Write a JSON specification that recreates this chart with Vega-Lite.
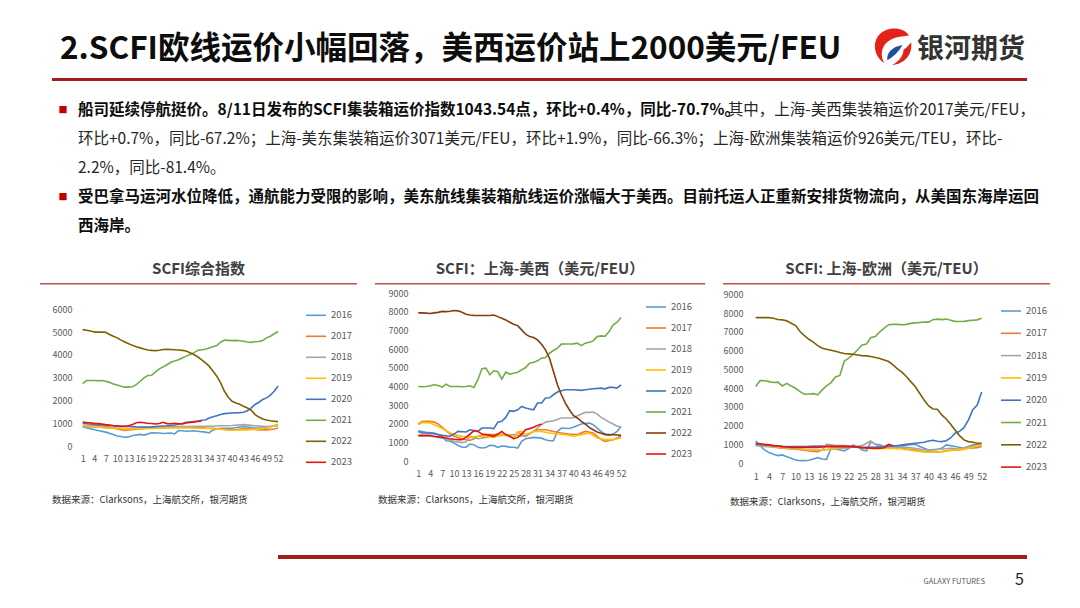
{
"$schema": "https://vega.github.io/schema/vega-lite/v6.json",
"background": "white",
"padding": {"left": 40, "top": 28, "right": 10, "bottom": 16},
"config": {
  "font": "Noto Sans CJK SC",
  "view": {"stroke": null},
  "axis": {"grid": false, "domain": false, "ticks": false, "labelColor": "#595959", "labelFontSize": 9, "labelFont": "Noto Sans CJK SC", "labelOverlap": false, "labelFlush": false, "format": "d"},
  "legend": {"symbolType": "stroke", "symbolSize": 400, "labelFontSize": 9.5, "labelColor": "#595959", "labelOffset": 4, "padding": 0}
},
"resolve": {"scale": {"color": "independent", "strokeWidth": "independent"}, "legend": {"color": "independent", "strokeWidth": "independent"}},
"datasets": {
  "blank": [{"id": 1}],
  "brand": [{"heading": "2.SCFI欧线运价小幅回落，美西运价站上2000美元/FEU", "name": "银河期货"}],
  "footer": [{"brand": "GALAXY FUTURES", "page": "5"}],
  "para": [
    {"line": "1", "part": "lead", "text": "船司延续停航挺价。8/11日发布的SCFI集装箱运价指数1043.54点，环比+0.4%，同比-70.7%。"},
    {"line": "1", "part": "body", "text": "其中，上海-美西集装箱运价2017美元/FEU，"},
    {"line": "2", "part": "body", "text": "环比+0.7%，同比-67.2%；上海-美东集装箱运价3071美元/FEU，环比+1.9%，同比-66.3%；上海-欧洲集装箱运价926美元/TEU，环比-"},
    {"line": "3", "part": "body", "text": "2.2%，同比-81.4%。"},
    {"line": "4", "part": "lead", "text": "受巴拿马运河水位降低，通航能力受限的影响，美东航线集装箱航线运价涨幅大于美西。目前托运人正重新安排货物流向，从美国东海岸运回"},
    {"line": "5", "part": "lead", "text": "西海岸。"}
  ],
  "comp": [
    {"year":"2016","week":1,"value":850},{"year":"2016","week":3,"value":770},{"year":"2016","week":5,"value":690},{"year":"2016","week":7,"value":620},{"year":"2016","week":9,"value":520},{"year":"2016","week":10,"value":450},{"year":"2016","week":12,"value":400},{"year":"2016","week":13,"value":410},{"year":"2016","week":14,"value":470},{"year":"2016","week":16,"value":520},{"year":"2016","week":17,"value":490},{"year":"2016","week":19,"value":590},{"year":"2016","week":21,"value":580},{"year":"2016","week":22,"value":560},{"year":"2016","week":24,"value":580},{"year":"2016","week":25,"value":540},{"year":"2016","week":26,"value":690},{"year":"2016","week":28,"value":660},{"year":"2016","week":30,"value":680},{"year":"2016","week":31,"value":660},{"year":"2016","week":33,"value":620},{"year":"2016","week":34,"value":590},{"year":"2016","week":35,"value":720},{"year":"2016","week":37,"value":790},{"year":"2016","week":40,"value":790},{"year":"2016","week":43,"value":870},{"year":"2016","week":46,"value":800},{"year":"2016","week":49,"value":800},{"year":"2016","week":52,"value":950},
    {"year":"2017","week":1,"value":900},{"year":"2017","week":4,"value":930},{"year":"2017","week":6,"value":900},{"year":"2017","week":8,"value":840},{"year":"2017","week":10,"value":760},{"year":"2017","week":12,"value":700},{"year":"2017","week":13,"value":720},{"year":"2017","week":15,"value":750},{"year":"2017","week":17,"value":780},{"year":"2017","week":19,"value":800},{"year":"2017","week":21,"value":790},{"year":"2017","week":23,"value":820},{"year":"2017","week":25,"value":850},{"year":"2017","week":27,"value":860},{"year":"2017","week":29,"value":840},{"year":"2017","week":31,"value":820},{"year":"2017","week":33,"value":800},{"year":"2017","week":35,"value":790},{"year":"2017","week":37,"value":760},{"year":"2017","week":39,"value":720},{"year":"2017","week":41,"value":720},{"year":"2017","week":43,"value":780},{"year":"2017","week":45,"value":760},{"year":"2017","week":47,"value":720},{"year":"2017","week":49,"value":720},{"year":"2017","week":51,"value":760},{"year":"2017","week":52,"value":800},
    {"year":"2018","week":1,"value":850},{"year":"2018","week":4,"value":860},{"year":"2018","week":7,"value":820},{"year":"2018","week":10,"value":800},{"year":"2018","week":13,"value":780},{"year":"2018","week":16,"value":790},{"year":"2018","week":19,"value":820},{"year":"2018","week":22,"value":840},{"year":"2018","week":25,"value":850},{"year":"2018","week":28,"value":860},{"year":"2018","week":31,"value":880},{"year":"2018","week":34,"value":880},{"year":"2018","week":37,"value":900},{"year":"2018","week":40,"value":910},{"year":"2018","week":43,"value":950},{"year":"2018","week":46,"value":900},{"year":"2018","week":49,"value":860},{"year":"2018","week":52,"value":900},
    {"year":"2019","week":1,"value":900},{"year":"2019","week":4,"value":870},{"year":"2019","week":7,"value":800},{"year":"2019","week":10,"value":780},{"year":"2019","week":13,"value":770},{"year":"2019","week":16,"value":770},{"year":"2019","week":19,"value":780},{"year":"2019","week":22,"value":800},{"year":"2019","week":25,"value":800},{"year":"2019","week":28,"value":810},{"year":"2019","week":31,"value":790},{"year":"2019","week":34,"value":780},{"year":"2019","week":37,"value":750},{"year":"2019","week":40,"value":700},{"year":"2019","week":43,"value":720},{"year":"2019","week":46,"value":740},{"year":"2019","week":49,"value":790},{"year":"2019","week":52,"value":950},
    {"year":"2020","week":1,"value":1000},{"year":"2020","week":3,"value":980},{"year":"2020","week":5,"value":950},{"year":"2020","week":7,"value":930},{"year":"2020","week":9,"value":890},{"year":"2020","week":11,"value":880},{"year":"2020","week":13,"value":870},{"year":"2020","week":15,"value":850},{"year":"2020","week":17,"value":840},{"year":"2020","week":19,"value":850},{"year":"2020","week":21,"value":880},{"year":"2020","week":23,"value":900},{"year":"2020","week":25,"value":930},{"year":"2020","week":27,"value":1000},{"year":"2020","week":28,"value":1050},{"year":"2020","week":30,"value":1080},{"year":"2020","week":31,"value":1100},{"year":"2020","week":32,"value":1140},{"year":"2020","week":33,"value":1150},{"year":"2020","week":34,"value":1240},{"year":"2020","week":35,"value":1290},{"year":"2020","week":36,"value":1340},{"year":"2020","week":37,"value":1390},{"year":"2020","week":38,"value":1430},{"year":"2020","week":40,"value":1460},{"year":"2020","week":42,"value":1475},{"year":"2020","week":43,"value":1490},{"year":"2020","week":44,"value":1560},{"year":"2020","week":45,"value":1680},{"year":"2020","week":46,"value":1830},{"year":"2020","week":47,"value":1930},{"year":"2020","week":48,"value":2050},{"year":"2020","week":49,"value":2120},{"year":"2020","week":50,"value":2240},{"year":"2020","week":51,"value":2410},{"year":"2020","week":52,"value":2640},
    {"year":"2021","week":1,"value":2750},{"year":"2021","week":2,"value":2880},{"year":"2021","week":3,"value":2880},{"year":"2021","week":4,"value":2880},{"year":"2021","week":5,"value":2870},{"year":"2021","week":6,"value":2880},{"year":"2021","week":7,"value":2850},{"year":"2021","week":8,"value":2800},{"year":"2021","week":9,"value":2730},{"year":"2021","week":10,"value":2680},{"year":"2021","week":11,"value":2630},{"year":"2021","week":12,"value":2590},{"year":"2021","week":13,"value":2590},{"year":"2021","week":14,"value":2610},{"year":"2021","week":15,"value":2700},{"year":"2021","week":16,"value":2850},{"year":"2021","week":17,"value":3000},{"year":"2021","week":18,"value":3100},{"year":"2021","week":19,"value":3110},{"year":"2021","week":20,"value":3260},{"year":"2021","week":21,"value":3390},{"year":"2021","week":22,"value":3480},{"year":"2021","week":23,"value":3570},{"year":"2021","week":24,"value":3680},{"year":"2021","week":25,"value":3740},{"year":"2021","week":26,"value":3790},{"year":"2021","week":27,"value":3870},{"year":"2021","week":28,"value":3950},{"year":"2021","week":29,"value":4020},{"year":"2021","week":30,"value":4090},{"year":"2021","week":31,"value":4200},{"year":"2021","week":32,"value":4230},{"year":"2021","week":33,"value":4250},{"year":"2021","week":34,"value":4310},{"year":"2021","week":35,"value":4360},{"year":"2021","week":36,"value":4410},{"year":"2021","week":37,"value":4560},{"year":"2021","week":38,"value":4650},{"year":"2021","week":39,"value":4640},{"year":"2021","week":40,"value":4630},{"year":"2021","week":41,"value":4640},{"year":"2021","week":42,"value":4620},{"year":"2021","week":43,"value":4600},{"year":"2021","week":44,"value":4570},{"year":"2021","week":45,"value":4550},{"year":"2021","week":46,"value":4580},{"year":"2021","week":47,"value":4590},{"year":"2021","week":48,"value":4630},{"year":"2021","week":49,"value":4750},{"year":"2021","week":50,"value":4820},{"year":"2021","week":51,"value":4930},{"year":"2021","week":52,"value":5030},
    {"year":"2022","week":1,"value":5110},{"year":"2022","week":2,"value":5080},{"year":"2022","week":3,"value":5050},{"year":"2022","week":4,"value":5010},{"year":"2022","week":5,"value":5000},{"year":"2022","week":6,"value":5000},{"year":"2022","week":7,"value":4990},{"year":"2022","week":8,"value":4900},{"year":"2022","week":9,"value":4820},{"year":"2022","week":10,"value":4750},{"year":"2022","week":11,"value":4650},{"year":"2022","week":12,"value":4570},{"year":"2022","week":13,"value":4490},{"year":"2022","week":14,"value":4420},{"year":"2022","week":15,"value":4360},{"year":"2022","week":16,"value":4310},{"year":"2022","week":17,"value":4260},{"year":"2022","week":18,"value":4220},{"year":"2022","week":19,"value":4200},{"year":"2022","week":20,"value":4190},{"year":"2022","week":21,"value":4210},{"year":"2022","week":22,"value":4240},{"year":"2022","week":23,"value":4250},{"year":"2022","week":24,"value":4240},{"year":"2022","week":25,"value":4230},{"year":"2022","week":26,"value":4220},{"year":"2022","week":27,"value":4200},{"year":"2022","week":28,"value":4170},{"year":"2022","week":29,"value":4100},{"year":"2022","week":30,"value":4020},{"year":"2022","week":31,"value":3920},{"year":"2022","week":32,"value":3800},{"year":"2022","week":33,"value":3660},{"year":"2022","week":34,"value":3510},{"year":"2022","week":35,"value":3300},{"year":"2022","week":36,"value":3070},{"year":"2022","week":37,"value":2780},{"year":"2022","week":38,"value":2410},{"year":"2022","week":39,"value":2150},{"year":"2022","week":40,"value":1970},{"year":"2022","week":41,"value":1900},{"year":"2022","week":42,"value":1840},{"year":"2022","week":43,"value":1750},{"year":"2022","week":44,"value":1680},{"year":"2022","week":45,"value":1580},{"year":"2022","week":46,"value":1390},{"year":"2022","week":47,"value":1280},{"year":"2022","week":48,"value":1200},{"year":"2022","week":49,"value":1155},{"year":"2022","week":50,"value":1120},{"year":"2022","week":51,"value":1100},{"year":"2022","week":52,"value":1080},
    {"year":"2023","week":1,"value":1060},{"year":"2023","week":2,"value":1040},{"year":"2023","week":3,"value":1030},{"year":"2023","week":4,"value":1010},{"year":"2023","week":5,"value":1000},{"year":"2023","week":6,"value":980},{"year":"2023","week":7,"value":950},{"year":"2023","week":8,"value":930},{"year":"2023","week":9,"value":910},{"year":"2023","week":10,"value":900},{"year":"2023","week":11,"value":880},{"year":"2023","week":12,"value":880},{"year":"2023","week":13,"value":900},{"year":"2023","week":14,"value":960},{"year":"2023","week":15,"value":1030},{"year":"2023","week":16,"value":1050},{"year":"2023","week":17,"value":1030},{"year":"2023","week":18,"value":1010},{"year":"2023","week":19,"value":1000},{"year":"2023","week":20,"value":980},{"year":"2023","week":21,"value":1000},{"year":"2023","week":22,"value":1050},{"year":"2023","week":23,"value":995},{"year":"2023","week":24,"value":990},{"year":"2023","week":25,"value":1010},{"year":"2023","week":26,"value":990},{"year":"2023","week":27,"value":980},{"year":"2023","week":28,"value":1020},{"year":"2023","week":29,"value":1040},{"year":"2023","week":30,"value":1070},{"year":"2023","week":31,"value":1090},{"year":"2023","week":32,"value":1100}
  ],
  "usw": [
    {"year":"2016","week":1,"value":1640},{"year":"2016","week":3,"value":1550},{"year":"2016","week":5,"value":1520},{"year":"2016","week":7,"value":1340},{"year":"2016","week":8,"value":1100},{"year":"2016","week":9,"value":1070},{"year":"2016","week":10,"value":980},{"year":"2016","week":11,"value":855},{"year":"2016","week":12,"value":750},{"year":"2016","week":13,"value":760},{"year":"2016","week":14,"value":925},{"year":"2016","week":15,"value":890},{"year":"2016","week":16,"value":750},{"year":"2016","week":17,"value":710},{"year":"2016","week":18,"value":740},{"year":"2016","week":19,"value":855},{"year":"2016","week":20,"value":840},{"year":"2016","week":21,"value":750},{"year":"2016","week":22,"value":820},{"year":"2016","week":23,"value":800},{"year":"2016","week":24,"value":760},{"year":"2016","week":25,"value":750},{"year":"2016","week":26,"value":710},{"year":"2016","week":27,"value":1070},{"year":"2016","week":28,"value":1210},{"year":"2016","week":30,"value":1280},{"year":"2016","week":32,"value":1240},{"year":"2016","week":33,"value":1160},{"year":"2016","week":34,"value":1100},{"year":"2016","week":35,"value":1100},{"year":"2016","week":36,"value":1600},{"year":"2016","week":37,"value":1780},{"year":"2016","week":39,"value":1760},{"year":"2016","week":40,"value":1820},{"year":"2016","week":42,"value":2000},{"year":"2016","week":44,"value":2050},{"year":"2016","week":45,"value":1960},{"year":"2016","week":46,"value":1780},{"year":"2016","week":47,"value":1600},{"year":"2016","week":48,"value":1460},{"year":"2016","week":49,"value":1390},{"year":"2016","week":50,"value":1460},{"year":"2016","week":51,"value":1600},{"year":"2016","week":52,"value":1870},
    {"year":"2017","week":1,"value":2000},{"year":"2017","week":2,"value":2140},{"year":"2017","week":4,"value":2140},{"year":"2017","week":5,"value":2100},{"year":"2017","week":6,"value":2000},{"year":"2017","week":7,"value":1820},{"year":"2017","week":8,"value":1640},{"year":"2017","week":9,"value":1460},{"year":"2017","week":10,"value":1340},{"year":"2017","week":11,"value":1280},{"year":"2017","week":12,"value":1210},{"year":"2017","week":13,"value":1160},{"year":"2017","week":14,"value":1120},{"year":"2017","week":15,"value":1210},{"year":"2017","week":16,"value":1340},{"year":"2017","week":18,"value":1430},{"year":"2017","week":20,"value":1430},{"year":"2017","week":22,"value":1460},{"year":"2017","week":24,"value":1340},{"year":"2017","week":25,"value":1250},{"year":"2017","week":26,"value":1570},{"year":"2017","week":27,"value":1430},{"year":"2017","week":28,"value":1340},{"year":"2017","week":30,"value":1600},{"year":"2017","week":31,"value":1690},{"year":"2017","week":33,"value":1690},{"year":"2017","week":35,"value":1600},{"year":"2017","week":37,"value":1515},{"year":"2017","week":39,"value":1460},{"year":"2017","week":41,"value":1430},{"year":"2017","week":43,"value":1600},{"year":"2017","week":45,"value":1515},{"year":"2017","week":46,"value":1340},{"year":"2017","week":47,"value":1160},{"year":"2017","week":48,"value":1070},{"year":"2017","week":50,"value":1160},{"year":"2017","week":52,"value":1340},
    {"year":"2018","week":1,"value":1340},{"year":"2018","week":4,"value":1340},{"year":"2018","week":7,"value":1250},{"year":"2018","week":9,"value":1150},{"year":"2018","week":10,"value":1070},{"year":"2018","week":12,"value":1000},{"year":"2018","week":13,"value":1040},{"year":"2018","week":14,"value":1340},{"year":"2018","week":16,"value":1210},{"year":"2018","week":18,"value":1280},{"year":"2018","week":20,"value":1340},{"year":"2018","week":22,"value":1390},{"year":"2018","week":25,"value":1430},{"year":"2018","week":27,"value":1340},{"year":"2018","week":28,"value":1390},{"year":"2018","week":30,"value":1600},{"year":"2018","week":32,"value":1960},{"year":"2018","week":33,"value":2100},{"year":"2018","week":35,"value":2175},{"year":"2018","week":37,"value":2320},{"year":"2018","week":39,"value":2320},{"year":"2018","week":40,"value":2330},{"year":"2018","week":42,"value":2530},{"year":"2018","week":43,"value":2620},{"year":"2018","week":44,"value":2620},{"year":"2018","week":45,"value":2640},{"year":"2018","week":46,"value":2530},{"year":"2018","week":47,"value":2350},{"year":"2018","week":48,"value":2230},{"year":"2018","week":49,"value":2100},{"year":"2018","week":50,"value":2000},{"year":"2018","week":51,"value":1880},{"year":"2018","week":52,"value":1850},
    {"year":"2019","week":1,"value":1960},{"year":"2019","week":2,"value":2085},{"year":"2019","week":4,"value":2050},{"year":"2019","week":6,"value":1870},{"year":"2019","week":8,"value":1640},{"year":"2019","week":9,"value":1515},{"year":"2019","week":10,"value":1430},{"year":"2019","week":12,"value":1340},{"year":"2019","week":14,"value":1280},{"year":"2019","week":16,"value":1340},{"year":"2019","week":18,"value":1340},{"year":"2019","week":20,"value":1280},{"year":"2019","week":22,"value":1430},{"year":"2019","week":24,"value":1430},{"year":"2019","week":25,"value":1210},{"year":"2019","week":26,"value":1570},{"year":"2019","week":27,"value":1600},{"year":"2019","week":28,"value":1430},{"year":"2019","week":30,"value":1600},{"year":"2019","week":32,"value":1600},{"year":"2019","week":34,"value":1515},{"year":"2019","week":36,"value":1460},{"year":"2019","week":38,"value":1430},{"year":"2019","week":40,"value":1340},{"year":"2019","week":42,"value":1430},{"year":"2019","week":44,"value":1515},{"year":"2019","week":46,"value":1250},{"year":"2019","week":48,"value":1160},{"year":"2019","week":50,"value":1160},{"year":"2019","week":52,"value":1250},
    {"year":"2020","week":1,"value":1600},{"year":"2020","week":2,"value":1515},{"year":"2020","week":4,"value":1515},{"year":"2020","week":7,"value":1390},{"year":"2020","week":9,"value":1340},{"year":"2020","week":10,"value":1460},{"year":"2020","week":11,"value":1600},{"year":"2020","week":13,"value":1570},{"year":"2020","week":14,"value":1690},{"year":"2020","week":16,"value":1600},{"year":"2020","week":17,"value":1780},{"year":"2020","week":19,"value":1780},{"year":"2020","week":20,"value":1750},{"year":"2020","week":21,"value":2100},{"year":"2020","week":22,"value":2140},{"year":"2020","week":23,"value":2350},{"year":"2020","week":24,"value":2710},{"year":"2020","week":25,"value":2675},{"year":"2020","week":26,"value":2760},{"year":"2020","week":27,"value":2940},{"year":"2020","week":28,"value":2850},{"year":"2020","week":29,"value":2800},{"year":"2020","week":30,"value":2760},{"year":"2020","week":31,"value":3120},{"year":"2020","week":32,"value":3120},{"year":"2020","week":33,"value":3390},{"year":"2020","week":34,"value":3400},{"year":"2020","week":35,"value":3565},{"year":"2020","week":36,"value":3710},{"year":"2020","week":37,"value":3780},{"year":"2020","week":38,"value":3830},{"year":"2020","week":40,"value":3830},{"year":"2020","week":42,"value":3800},{"year":"2020","week":43,"value":3830},{"year":"2020","week":45,"value":3885},{"year":"2020","week":47,"value":3920},{"year":"2020","week":48,"value":3880},{"year":"2020","week":49,"value":3960},{"year":"2020","week":50,"value":3960},{"year":"2020","week":51,"value":3920},{"year":"2020","week":52,"value":4100},
    {"year":"2021","week":1,"value":4010},{"year":"2021","week":2,"value":3990},{"year":"2021","week":3,"value":4010},{"year":"2021","week":4,"value":4045},{"year":"2021","week":5,"value":4100},{"year":"2021","week":6,"value":4065},{"year":"2021","week":7,"value":3975},{"year":"2021","week":8,"value":4135},{"year":"2021","week":9,"value":4010},{"year":"2021","week":10,"value":4010},{"year":"2021","week":11,"value":4010},{"year":"2021","week":12,"value":3990},{"year":"2021","week":13,"value":4010},{"year":"2021","week":14,"value":4045},{"year":"2021","week":15,"value":3955},{"year":"2021","week":16,"value":4370},{"year":"2021","week":17,"value":4955},{"year":"2021","week":18,"value":4990},{"year":"2021","week":19,"value":4635},{"year":"2021","week":20,"value":4850},{"year":"2021","week":21,"value":4810},{"year":"2021","week":22,"value":4400},{"year":"2021","week":23,"value":4775},{"year":"2021","week":24,"value":4670},{"year":"2021","week":25,"value":4720},{"year":"2021","week":26,"value":4775},{"year":"2021","week":27,"value":4900},{"year":"2021","week":28,"value":5025},{"year":"2021","week":29,"value":5260},{"year":"2021","week":30,"value":5310},{"year":"2021","week":31,"value":5380},{"year":"2021","week":32,"value":5525},{"year":"2021","week":33,"value":5560},{"year":"2021","week":34,"value":5790},{"year":"2021","week":35,"value":5935},{"year":"2021","week":36,"value":6060},{"year":"2021","week":37,"value":6275},{"year":"2021","week":38,"value":6280},{"year":"2021","week":39,"value":6280},{"year":"2021","week":40,"value":6290},{"year":"2021","week":41,"value":6330},{"year":"2021","week":42,"value":6200},{"year":"2021","week":43,"value":6330},{"year":"2021","week":44,"value":6380},{"year":"2021","week":45,"value":6450},{"year":"2021","week":46,"value":6680},{"year":"2021","week":47,"value":6720},{"year":"2021","week":48,"value":6700},{"year":"2021","week":49,"value":6950},{"year":"2021","week":50,"value":7300},{"year":"2021","week":51,"value":7450},{"year":"2021","week":52,"value":7700},
    {"year":"2022","week":1,"value":7950},{"year":"2022","week":2,"value":7950},{"year":"2022","week":3,"value":7940},{"year":"2022","week":4,"value":7920},{"year":"2022","week":5,"value":7950},{"year":"2022","week":6,"value":7980},{"year":"2022","week":7,"value":8030},{"year":"2022","week":8,"value":8020},{"year":"2022","week":9,"value":8040},{"year":"2022","week":10,"value":8075},{"year":"2022","week":11,"value":8060},{"year":"2022","week":12,"value":7985},{"year":"2022","week":13,"value":7880},{"year":"2022","week":14,"value":7840},{"year":"2022","week":15,"value":7810},{"year":"2022","week":16,"value":7810},{"year":"2022","week":17,"value":7810},{"year":"2022","week":18,"value":7810},{"year":"2022","week":19,"value":7810},{"year":"2022","week":20,"value":7840},{"year":"2022","week":21,"value":7750},{"year":"2022","week":22,"value":7665},{"year":"2022","week":23,"value":7575},{"year":"2022","week":24,"value":7450},{"year":"2022","week":25,"value":7345},{"year":"2022","week":26,"value":7270},{"year":"2022","week":27,"value":7040},{"year":"2022","week":28,"value":6810},{"year":"2022","week":29,"value":6680},{"year":"2022","week":30,"value":6630},{"year":"2022","week":31,"value":6505},{"year":"2022","week":32,"value":6275},{"year":"2022","week":33,"value":5970},{"year":"2022","week":34,"value":5525},{"year":"2022","week":35,"value":4810},{"year":"2022","week":36,"value":4100},{"year":"2022","week":37,"value":3565},{"year":"2022","week":38,"value":3120},{"year":"2022","week":39,"value":2760},{"year":"2022","week":40,"value":2460},{"year":"2022","week":41,"value":2320},{"year":"2022","week":42,"value":2140},{"year":"2022","week":43,"value":2000},{"year":"2022","week":44,"value":1820},{"year":"2022","week":45,"value":1690},{"year":"2022","week":46,"value":1570},{"year":"2022","week":47,"value":1500},{"year":"2022","week":48,"value":1430},{"year":"2022","week":49,"value":1430},{"year":"2022","week":50,"value":1420},{"year":"2022","week":51,"value":1410},{"year":"2022","week":52,"value":1390},
    {"year":"2023","week":1,"value":1390},{"year":"2023","week":2,"value":1390},{"year":"2023","week":3,"value":1390},{"year":"2023","week":4,"value":1390},{"year":"2023","week":5,"value":1340},{"year":"2023","week":6,"value":1310},{"year":"2023","week":7,"value":1280},{"year":"2023","week":8,"value":1250},{"year":"2023","week":9,"value":1210},{"year":"2023","week":10,"value":1180},{"year":"2023","week":11,"value":1160},{"year":"2023","week":12,"value":1160},{"year":"2023","week":13,"value":1280},{"year":"2023","week":14,"value":1460},{"year":"2023","week":15,"value":1640},{"year":"2023","week":16,"value":1600},{"year":"2023","week":17,"value":1460},{"year":"2023","week":18,"value":1430},{"year":"2023","week":19,"value":1390},{"year":"2023","week":20,"value":1340},{"year":"2023","week":21,"value":1460},{"year":"2023","week":22,"value":1600},{"year":"2023","week":23,"value":1430},{"year":"2023","week":24,"value":1340},{"year":"2023","week":25,"value":1210},{"year":"2023","week":26,"value":1280},{"year":"2023","week":27,"value":1460},{"year":"2023","week":28,"value":1690},{"year":"2023","week":29,"value":1750},{"year":"2023","week":30,"value":1820},{"year":"2023","week":31,"value":1925},{"year":"2023","week":32,"value":2000}
  ],
  "eur": [
    {"year":"2016","week":1,"value":1190},{"year":"2016","week":2,"value":940},{"year":"2016","week":3,"value":710},{"year":"2016","week":4,"value":570},{"year":"2016","week":5,"value":480},{"year":"2016","week":6,"value":410},{"year":"2016","week":7,"value":445},{"year":"2016","week":8,"value":355},{"year":"2016","week":9,"value":265},{"year":"2016","week":10,"value":180},{"year":"2016","week":11,"value":140},{"year":"2016","week":12,"value":140},{"year":"2016","week":13,"value":160},{"year":"2016","week":14,"value":230},{"year":"2016","week":15,"value":300},{"year":"2016","week":16,"value":230},{"year":"2016","week":17,"value":210},{"year":"2016","week":18,"value":800},{"year":"2016","week":19,"value":765},{"year":"2016","week":20,"value":710},{"year":"2016","week":21,"value":660},{"year":"2016","week":22,"value":800},{"year":"2016","week":23,"value":980},{"year":"2016","week":24,"value":890},{"year":"2016","week":25,"value":710},{"year":"2016","week":26,"value":660},{"year":"2016","week":27,"value":1155},{"year":"2016","week":28,"value":1010},{"year":"2016","week":29,"value":980},{"year":"2016","week":30,"value":890},{"year":"2016","week":31,"value":1000},{"year":"2016","week":32,"value":890},{"year":"2016","week":33,"value":835},{"year":"2016","week":35,"value":980},{"year":"2016","week":37,"value":1010},{"year":"2016","week":38,"value":890},{"year":"2016","week":40,"value":710},{"year":"2016","week":42,"value":740},{"year":"2016","week":43,"value":800},{"year":"2016","week":44,"value":980},{"year":"2016","week":45,"value":940},{"year":"2016","week":46,"value":890},{"year":"2016","week":48,"value":800},{"year":"2016","week":50,"value":980},{"year":"2016","week":52,"value":1000},
    {"year":"2017","week":1,"value":980},{"year":"2017","week":4,"value":940},{"year":"2017","week":7,"value":800},{"year":"2017","week":10,"value":765},{"year":"2017","week":13,"value":660},{"year":"2017","week":15,"value":620},{"year":"2017","week":16,"value":700},{"year":"2017","week":17,"value":1010},{"year":"2017","week":19,"value":940},{"year":"2017","week":21,"value":940},{"year":"2017","week":23,"value":890},{"year":"2017","week":25,"value":800},{"year":"2017","week":27,"value":835},{"year":"2017","week":29,"value":800},{"year":"2017","week":31,"value":940},{"year":"2017","week":33,"value":890},{"year":"2017","week":35,"value":765},{"year":"2017","week":37,"value":710},{"year":"2017","week":39,"value":620},{"year":"2017","week":41,"value":585},{"year":"2017","week":43,"value":620},{"year":"2017","week":45,"value":710},{"year":"2017","week":47,"value":710},{"year":"2017","week":49,"value":800},{"year":"2017","week":51,"value":835},{"year":"2017","week":52,"value":890},
    {"year":"2018","week":1,"value":940},{"year":"2018","week":4,"value":890},{"year":"2018","week":7,"value":800},{"year":"2018","week":10,"value":765},{"year":"2018","week":13,"value":710},{"year":"2018","week":16,"value":710},{"year":"2018","week":19,"value":765},{"year":"2018","week":22,"value":835},{"year":"2018","week":25,"value":940},{"year":"2018","week":26,"value":1065},{"year":"2018","week":27,"value":1190},{"year":"2018","week":28,"value":1010},{"year":"2018","week":29,"value":890},{"year":"2018","week":31,"value":850},{"year":"2018","week":33,"value":890},{"year":"2018","week":35,"value":850},{"year":"2018","week":37,"value":800},{"year":"2018","week":39,"value":710},{"year":"2018","week":41,"value":710},{"year":"2018","week":43,"value":765},{"year":"2018","week":45,"value":800},{"year":"2018","week":47,"value":765},{"year":"2018","week":49,"value":890},{"year":"2018","week":51,"value":940},{"year":"2018","week":52,"value":980},
    {"year":"2019","week":1,"value":980},{"year":"2019","week":4,"value":940},{"year":"2019","week":7,"value":835},{"year":"2019","week":10,"value":800},{"year":"2019","week":13,"value":710},{"year":"2019","week":16,"value":710},{"year":"2019","week":19,"value":800},{"year":"2019","week":22,"value":890},{"year":"2019","week":25,"value":835},{"year":"2019","week":28,"value":765},{"year":"2019","week":31,"value":800},{"year":"2019","week":34,"value":765},{"year":"2019","week":37,"value":660},{"year":"2019","week":40,"value":585},{"year":"2019","week":43,"value":620},{"year":"2019","week":46,"value":710},{"year":"2019","week":49,"value":800},{"year":"2019","week":52,"value":980},
    {"year":"2020","week":1,"value":1010},{"year":"2020","week":3,"value":980},{"year":"2020","week":5,"value":940},{"year":"2020","week":7,"value":900},{"year":"2020","week":10,"value":890},{"year":"2020","week":13,"value":900},{"year":"2020","week":15,"value":925},{"year":"2020","week":18,"value":900},{"year":"2020","week":20,"value":890},{"year":"2020","week":23,"value":870},{"year":"2020","week":25,"value":850},{"year":"2020","week":28,"value":860},{"year":"2020","week":30,"value":880},{"year":"2020","week":33,"value":940},{"year":"2020","week":35,"value":1010},{"year":"2020","week":37,"value":1065},{"year":"2020","week":39,"value":1120},{"year":"2020","week":40,"value":1190},{"year":"2020","week":41,"value":1225},{"year":"2020","week":42,"value":1170},{"year":"2020","week":43,"value":1155},{"year":"2020","week":44,"value":1200},{"year":"2020","week":45,"value":1350},{"year":"2020","week":46,"value":1600},{"year":"2020","week":47,"value":1700},{"year":"2020","week":48,"value":1900},{"year":"2020","week":49,"value":2300},{"year":"2020","week":50,"value":2850},{"year":"2020","week":51,"value":3100},{"year":"2020","week":52,"value":3800},
    {"year":"2021","week":1,"value":4085},{"year":"2021","week":2,"value":4405},{"year":"2021","week":3,"value":4400},{"year":"2021","week":4,"value":4350},{"year":"2021","week":5,"value":4300},{"year":"2021","week":6,"value":4320},{"year":"2021","week":7,"value":4120},{"year":"2021","week":8,"value":4260},{"year":"2021","week":9,"value":4120},{"year":"2021","week":10,"value":3995},{"year":"2021","week":11,"value":3820},{"year":"2021","week":12,"value":3675},{"year":"2021","week":13,"value":3690},{"year":"2021","week":14,"value":3710},{"year":"2021","week":15,"value":3640},{"year":"2021","week":16,"value":3910},{"year":"2021","week":17,"value":4120},{"year":"2021","week":18,"value":4300},{"year":"2021","week":19,"value":4600},{"year":"2021","week":20,"value":4680},{"year":"2021","week":21,"value":5450},{"year":"2021","week":22,"value":5600},{"year":"2021","week":23,"value":5800},{"year":"2021","week":24,"value":6050},{"year":"2021","week":25,"value":6300},{"year":"2021","week":26,"value":6350},{"year":"2021","week":27,"value":6700},{"year":"2021","week":28,"value":6750},{"year":"2021","week":29,"value":7000},{"year":"2021","week":30,"value":7200},{"year":"2021","week":31,"value":7380},{"year":"2021","week":32,"value":7400},{"year":"2021","week":33,"value":7400},{"year":"2021","week":34,"value":7380},{"year":"2021","week":35,"value":7400},{"year":"2021","week":36,"value":7450},{"year":"2021","week":37,"value":7480},{"year":"2021","week":38,"value":7500},{"year":"2021","week":39,"value":7520},{"year":"2021","week":40,"value":7520},{"year":"2021","week":41,"value":7650},{"year":"2021","week":42,"value":7680},{"year":"2021","week":43,"value":7650},{"year":"2021","week":44,"value":7680},{"year":"2021","week":45,"value":7620},{"year":"2021","week":46,"value":7560},{"year":"2021","week":47,"value":7550},{"year":"2021","week":48,"value":7560},{"year":"2021","week":49,"value":7600},{"year":"2021","week":50,"value":7620},{"year":"2021","week":51,"value":7640},{"year":"2021","week":52,"value":7720},
    {"year":"2022","week":1,"value":7760},{"year":"2022","week":2,"value":7760},{"year":"2022","week":3,"value":7760},{"year":"2022","week":4,"value":7760},{"year":"2022","week":5,"value":7725},{"year":"2022","week":6,"value":7655},{"year":"2022","week":7,"value":7640},{"year":"2022","week":8,"value":7585},{"year":"2022","week":9,"value":7460},{"year":"2022","week":10,"value":7335},{"year":"2022","week":11,"value":7015},{"year":"2022","week":12,"value":6800},{"year":"2022","week":13,"value":6605},{"year":"2022","week":14,"value":6450},{"year":"2022","week":15,"value":6270},{"year":"2022","week":16,"value":6130},{"year":"2022","week":17,"value":6075},{"year":"2022","week":18,"value":6020},{"year":"2022","week":19,"value":5970},{"year":"2022","week":20,"value":5900},{"year":"2022","week":21,"value":5845},{"year":"2022","week":22,"value":5825},{"year":"2022","week":23,"value":5810},{"year":"2022","week":24,"value":5770},{"year":"2022","week":25,"value":5735},{"year":"2022","week":26,"value":5720},{"year":"2022","week":27,"value":5685},{"year":"2022","week":28,"value":5630},{"year":"2022","week":29,"value":5580},{"year":"2022","week":30,"value":5505},{"year":"2022","week":31,"value":5420},{"year":"2022","week":32,"value":5240},{"year":"2022","week":33,"value":5025},{"year":"2022","week":34,"value":4850},{"year":"2022","week":35,"value":4620},{"year":"2022","week":36,"value":4350},{"year":"2022","week":37,"value":4085},{"year":"2022","week":38,"value":3730},{"year":"2022","week":39,"value":3375},{"year":"2022","week":40,"value":3070},{"year":"2022","week":41,"value":2895},{"year":"2022","week":42,"value":2875},{"year":"2022","week":43,"value":2575},{"year":"2022","week":44,"value":2360},{"year":"2022","week":45,"value":2080},{"year":"2022","week":46,"value":1775},{"year":"2022","week":47,"value":1475},{"year":"2022","week":48,"value":1245},{"year":"2022","week":49,"value":1155},{"year":"2022","week":50,"value":1120},{"year":"2022","week":51,"value":1065},{"year":"2022","week":52,"value":1065},
    {"year":"2023","week":1,"value":1065},{"year":"2023","week":2,"value":1040},{"year":"2023","week":3,"value":1010},{"year":"2023","week":4,"value":990},{"year":"2023","week":5,"value":940},{"year":"2023","week":6,"value":920},{"year":"2023","week":7,"value":890},{"year":"2023","week":8,"value":870},{"year":"2023","week":9,"value":850},{"year":"2023","week":10,"value":850},{"year":"2023","week":11,"value":850},{"year":"2023","week":12,"value":850},{"year":"2023","week":13,"value":850},{"year":"2023","week":14,"value":850},{"year":"2023","week":15,"value":850},{"year":"2023","week":16,"value":870},{"year":"2023","week":17,"value":890},{"year":"2023","week":18,"value":890},{"year":"2023","week":19,"value":890},{"year":"2023","week":20,"value":900},{"year":"2023","week":21,"value":905},{"year":"2023","week":22,"value":900},{"year":"2023","week":23,"value":890},{"year":"2023","week":24,"value":870},{"year":"2023","week":25,"value":835},{"year":"2023","week":26,"value":820},{"year":"2023","week":27,"value":800},{"year":"2023","week":28,"value":800},{"year":"2023","week":29,"value":800},{"year":"2023","week":30,"value":830},{"year":"2023","week":31,"value":1010},{"year":"2023","week":32,"value":940}
  ]
},
"spacing": 10,
"vconcat": [
  {
    "spacing": 0,
    "hconcat": [
      {"width": 12, "height": 3, "data": {"name": "blank"}, "mark": {"type": "text", "text": ""}},
      {
        "width": 975, "height": 3,
        "data": {"name": "brand"},
        "view": {"fill": "#A31D1D", "stroke": null},
        "layer": [
          {"mark": {"type": "text", "fontSize": 31.5, "fontWeight": "bold", "color": "#0D0D0D", "align": "left", "baseline": "alphabetic", "dx": 8, "dy": -20.5}, "encoding": {"x": {"value": 0}, "text": {"field": "heading"}}},
          {"mark": {"type": "point", "shape": "M0.85,-0.55 C0.55,-1.0 -0.35,-1.1 -0.8,-0.5 C-1.1,-0.05 -0.95,0.6 -0.45,0.9 C-0.7,0.5 -0.6,0.0 -0.25,-0.25 C0.1,-0.5 0.5,-0.5 0.85,-0.55 Z M0.95,-0.2 C1.05,0.45 0.6,0.95 -0.05,1.0 C0.35,0.8 0.55,0.5 0.55,0.2 C0.7,0.1 0.85,-0.05 0.95,-0.2 Z", "size": 1444, "filled": true, "color": "#E2231A", "opacity": 1, "strokeWidth": 0, "xOffset": -134, "yOffset": -33.5}, "encoding": {"x": {"value": "width"}}},
          {"mark": {"type": "point", "shape": "M-0.3,0.75 C-0.35,0.35 -0.05,0.05 0.5,-0.05 C0.3,0.3 0.05,0.55 -0.3,0.75 Z", "size": 1444, "filled": true, "color": "#1F4E9E", "opacity": 1, "strokeWidth": 0, "xOffset": -134, "yOffset": -33.5}, "encoding": {"x": {"value": "width"}}},
          {"mark": {"type": "text", "fontSize": 27, "fontWeight": "bold", "color": "#333333", "align": "right", "baseline": "middle", "dx": -2, "dy": -30}, "encoding": {"x": {"value": "width"}, "text": {"field": "name"}}}
        ]
      }
    ]
  },
  {
    "spacing": 21,
    "resolve": {"scale": {"color": "independent", "strokeWidth": "independent"}, "legend": {"color": "independent", "strokeWidth": "independent"}},
    "vconcat": [
      {
        "width": 987, "height": {"step": 29},
        "data": {"name": "para"},
        "encoding": {"y": {"field": "line", "type": "ordinal", "scale": {"padding": 0.5}, "axis": null}},
        "layer": [
          {"transform": [{"filter": "datum.part === 'lead' && (datum.line === '1' || datum.line === '4')"}], "mark": {"type": "text", "text": "■", "fontSize": 9, "color": "#C00000", "align": "center", "baseline": "middle", "dx": 23}, "encoding": {"x": {"value": 0}}},
          {"transform": [{"filter": "datum.part === 'lead'"}], "mark": {"type": "text", "fontSize": 15.5, "fontWeight": "bold", "color": "#0D0D0D", "align": "left", "baseline": "middle", "dx": 38}, "encoding": {"x": {"value": 0}, "text": {"field": "text"}}},
          {"transform": [{"filter": "datum.part === 'body' && datum.line !== '1'"}], "mark": {"type": "text", "fontSize": 15.5, "color": "#262626", "align": "left", "baseline": "middle", "dx": 38}, "encoding": {"x": {"value": 0}, "text": {"field": "text"}}},
          {"transform": [{"filter": "datum.part === 'body' && datum.line === '1'"}], "mark": {"type": "text", "fontSize": 15.5, "color": "#262626", "align": "right", "baseline": "middle", "dx": 8}, "encoding": {"x": {"value": "width"}, "text": {"field": "text"}}}
        ]
      },
      {
        "spacing": 44,
        "resolve": {"scale": {"color": "independent", "strokeWidth": "independent"}, "legend": {"color": "independent", "strokeWidth": "independent"}},
        "vconcat": [
          {
            "spacing": 18,
            "resolve": {"scale": {"color": "independent", "strokeWidth": "independent"}, "legend": {"color": "independent", "strokeWidth": "independent"}},
            "hconcat": [
              {
                "spacing": 15.3,
                "resolve": {"scale": {"color": "independent", "strokeWidth": "independent"}, "legend": {"color": "independent", "strokeWidth": "independent"}},
                "vconcat": [
                  {"width": 317, "height": 1.5, "data": {"name": "blank"}, "mark": {"type": "text", "text": ""}, "view": {"fill": "#C0504D", "stroke": null},
                   "title": {"text": "SCFI综合指数", "anchor": "middle", "offset": 1, "fontSize": 15, "fontWeight": "bold", "color": "#404040"}},
                  {
                    "width": 317, "height": 137,
                    "data": {"name": "comp"},
                    "mark": {"type": "line"},
                    "encoding": {
                      "x": {"field": "week", "type": "quantitative", "scale": {"domain": [0.5, 53.5], "range": [40.8, 243.8], "nice": false, "zero": false}, "axis": {"title": null, "values": [1,4,7,10,13,16,19,22,25,28,31,34,37,40,43,46,49,52], "labelPadding": 8}},
                      "y": {"field": "value", "type": "quantitative", "scale": {"domain": [0, 6000], "nice": false}, "axis": {"title": null, "values": [0,1000,2000,3000,4000,5000,6000], "labelPadding": 6, "offset": -38}},
                      "color": {"field": "year", "type": "ordinal", "scale": {"domain": ["2016","2017","2018","2019","2020","2021","2022","2023"], "range": ["#5B9BD5","#ED7D31","#A5A5A5","#FFC000","#4472C4","#70AD47","#806000","#E8130F"]}, "legend": {"title": null, "orient": "none", "legendX": 265, "legendY": -5, "rowPadding": 5}},
                      "strokeWidth": {"field": "year", "type": "ordinal", "scale": {"domain": ["2016","2017","2018","2019","2020","2021","2022","2023"], "range": [1.6,1.6,1.6,1.6,1.6,1.6,1.6,3.4]}, "legend": {"title": null, "orient": "none", "legendX": 265, "legendY": -5, "rowPadding": 5}}
                    },
                    "title": {"text": "数据来源：Clarksons，上海航交所，银河期货", "orient": "bottom", "anchor": "start", "frame": "group", "offset": 28, "dx": 12, "fontSize": 9.5, "fontWeight": "normal", "color": "#333333"}
                  }
                ]
              },
              {
                "spacing": 0.3,
                "resolve": {"scale": {"color": "independent", "strokeWidth": "independent"}, "legend": {"color": "independent", "strokeWidth": "independent"}},
                "vconcat": [
                  {"width": 330, "height": 1.5, "data": {"name": "blank"}, "mark": {"type": "text", "text": ""}, "view": {"fill": "#C0504D", "stroke": null},
                   "title": {"text": "SCFI：上海-美西（美元/FEU）", "anchor": "middle", "offset": 1, "fontSize": 15, "fontWeight": "bold", "color": "#404040"}},
                  {
                    "width": 330, "height": 168,
                    "data": {"name": "usw"},
                    "mark": {"type": "line"},
                    "encoding": {
                      "x": {"field": "week", "type": "quantitative", "scale": {"domain": [0.5, 53.5], "range": [41.3, 252], "nice": false, "zero": false}, "axis": {"title": null, "values": [1,4,7,10,13,16,19,22,25,28,31,34,37,40,43,46,49,52], "labelPadding": 8}},
                      "y": {"field": "value", "type": "quantitative", "scale": {"domain": [0, 9000], "nice": false}, "axis": {"title": null, "values": [0,1000,2000,3000,4000,5000,6000,7000,8000,9000], "labelPadding": 6, "offset": -39}},
                      "color": {"field": "year", "type": "ordinal", "scale": {"domain": ["2016","2017","2018","2019","2020","2021","2022","2023"], "range": ["#5B9BD5","#ED7D31","#A5A5A5","#FFC000","#4472C4","#70AD47","#843C0C","#E8130F"]}, "legend": {"title": null, "orient": "none", "legendX": 270, "legendY": 2.7, "rowPadding": 5}},
                      "strokeWidth": {"field": "year", "type": "ordinal", "scale": {"domain": ["2016","2017","2018","2019","2020","2021","2022","2023"], "range": [1.6,1.6,1.6,1.6,1.6,1.6,1.6,3.4]}, "legend": {"title": null, "orient": "none", "legendX": 270, "legendY": 2.7, "rowPadding": 5}}
                    },
                    "title": {"text": "数据来源：Clarksons，上海航交所，银河期货", "orient": "bottom", "anchor": "start", "frame": "group", "offset": 17, "dx": 3, "fontSize": 9.5, "fontWeight": "normal", "color": "#333333"}
                  }
                ]
              },
              {
                "spacing": 1.3,
                "resolve": {"scale": {"color": "independent", "strokeWidth": "independent"}, "legend": {"color": "independent", "strokeWidth": "independent"}},
                "vconcat": [
                  {"width": 327, "height": 1.5, "data": {"name": "blank"}, "mark": {"type": "text", "text": ""}, "view": {"fill": "#C0504D", "stroke": null},
                   "title": {"text": "SCFI: 上海-欧洲（美元/TEU）", "anchor": "middle", "offset": 1, "fontSize": 15, "fontWeight": "bold", "color": "#404040"}},
                  {
                    "width": 327, "height": 169,
                    "data": {"name": "eur"},
                    "mark": {"type": "line"},
                    "encoding": {
                      "x": {"field": "week", "type": "quantitative", "scale": {"domain": [0.5, 53.5], "range": [30.5, 265.3], "nice": false, "zero": false}, "axis": {"title": null, "values": [1,4,7,10,13,16,19,22,25,28,31,34,37,40,43,46,49,52], "labelPadding": 9}},
                      "y": {"field": "value", "type": "quantitative", "scale": {"domain": [0, 9000], "nice": false}, "axis": {"title": null, "values": [0,1000,2000,3000,4000,5000,6000,7000,8000,9000], "labelPadding": 6, "offset": -26}},
                      "color": {"field": "year", "type": "ordinal", "scale": {"domain": ["2016","2017","2018","2019","2020","2021","2022","2023"], "range": ["#5B9BD5","#ED7D31","#A5A5A5","#FFC000","#4472C4","#70AD47","#7F6000","#E8130F"]}, "legend": {"title": null, "orient": "none", "legendX": 277, "legendY": 5.7, "rowPadding": 6.3}},
                      "strokeWidth": {"field": "year", "type": "ordinal", "scale": {"domain": ["2016","2017","2018","2019","2020","2021","2022","2023"], "range": [1.6,1.6,1.6,1.6,1.6,1.6,1.6,3.4]}, "legend": {"title": null, "orient": "none", "legendX": 277, "legendY": 5.7, "rowPadding": 6.3}}
                    },
                    "title": {"text": "数据来源：Clarksons，上海航交所，银河期货", "orient": "bottom", "anchor": "start", "frame": "group", "offset": 15.7, "dx": 7, "fontSize": 9.5, "fontWeight": "normal", "color": "#333333"}
                  }
                ]
              }
            ]
          },
          {
            "spacing": 0,
            "hconcat": [
              {"width": 238, "height": 4, "data": {"name": "blank"}, "mark": {"type": "text", "text": ""}},
              {
                "width": 749, "height": 4,
                "data": {"name": "footer"},
                "view": {"fill": "#A31D1D", "stroke": null},
                "layer": [
                  {"mark": {"type": "text", "fontSize": 7.5, "color": "#595959", "align": "right", "baseline": "middle", "dx": -42, "dy": 25}, "encoding": {"x": {"value": "width"}, "text": {"field": "brand"}}},
                  {"mark": {"type": "text", "fontSize": 16, "color": "#262626", "align": "right", "baseline": "middle", "dx": -3, "dy": 23}, "encoding": {"x": {"value": "width"}, "text": {"field": "page"}}}
                ]
              }
            ]
          }
        ]
      }
    ]
  }
]
}
